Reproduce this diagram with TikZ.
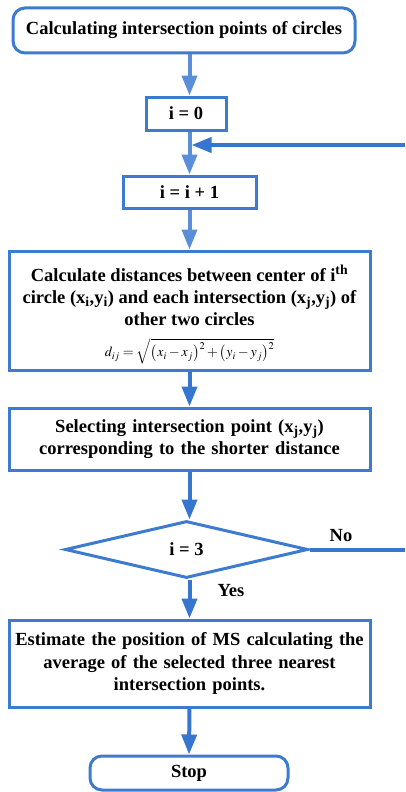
\documentclass[tikz,border=0pt]{standalone}
\usepackage{mathptmx}
\usepackage{fontspec}
\setmainfont{Liberation Serif}
\usetikzlibrary{arrows.meta,shapes.geometric,calc}
\definecolor{boxblue}{HTML}{3C7BCF}
\definecolor{arrowlight}{HTML}{5A8ED8}
\definecolor{arrowdark}{HTML}{3776CE}
\tikzset{
  procbox/.style={draw=boxblue,line width=3pt,fill=white,inner sep=2pt,align=center,
    font=\fontsize{18.5}{22.5}\selectfont\bfseries},
  termbox/.style={procbox,rounded corners=12pt},
  decbox/.style={procbox,shape=diamond,inner sep=0pt},
  boxtext/.style={inner sep=0pt,align=center,font=\fontsize{18.5}{22}\selectfont\bfseries},
  eqtext/.style={inner sep=0pt,font=\fontsize{14}{16}\selectfont},
  flow/.style={line width=4pt,-{Triangle[length=20pt,width=15pt]}},
  lbl/.style={font=\fontsize{18.5}{22}\selectfont\bfseries,inner sep=0pt}
}
\begin{document}
\begin{tikzpicture}[x=1pt,y=-1pt]
\useasboundingbox (0,0) rectangle (405,792);
\node[termbox,minimum width=342pt,minimum height=45pt] (start) at (184,30.5)
  {Calculating intersection points of circles};
\node[procbox,minimum width=80pt,minimum height=33pt] (init) at (186,113.5) {i = 0};
\node[procbox,minimum width=133pt,minimum height=32pt] (inc) at (189.5,192) {i = i + 1};
% distance box: frame, three lines of text, and the distance formula
\node[procbox,minimum width=361pt,minimum height=119pt] (calc) at (189.5,310.5) {};
\node[boxtext] (calctext) at (189.5,295.5)
  {Calculate distances between center of i\textsuperscript{th}\\
   circle (x\textsubscript{i},y\textsubscript{i}) and each intersection (x\textsubscript{j},y\textsubscript{j}) of\\
   other two circles};
\node[eqtext,anchor=north] (dist) at (189.5,338)
  {$d_{ij}=\sqrt{\bigl(x_i-x_j\bigr)^2+\bigl(y_i-y_j\bigr)^2}$};
\node[procbox,minimum width=361pt,minimum height=62pt,text width=355pt] (sel) at (189.5,439)
  {Selecting intersection point (x\textsubscript{j},y\textsubscript{j})\\
   corresponding to the shorter distance};
\node[decbox,minimum width=243pt,minimum height=57pt,aspect=4.26] (dec) at (186.5,549.5) {i = 3};
\node[procbox,minimum width=361pt,minimum height=87pt,text width=355pt] (est) at (189.5,663.5)
  {Estimate the position of MS calculating the\\
   average of the selected three nearest\\
   intersection points.};
\node[termbox,minimum width=198pt,minimum height=34pt] (stop) at (189,773) {Stop};

\coordinate (loopin) at (405,145);
\coordinate (noout) at (405,549.5);

\draw[flow,arrowlight] (start.south -| inc) -- (init.north -| inc);
\draw[flow,arrowlight] (init.south -| inc) -- (inc.north);
\draw[flow,arrowdark] (loopin) -- ($(loopin -| inc)+(2,0)$);
\draw[flow,arrowlight] (inc.south) -- (calc.north);
\draw[flow,arrowdark] (calc.south) -- (sel.north);
\draw[flow,arrowdark] (sel.south) -- (dec.north -| sel);
\draw[flow,arrowdark] (dec.south -| sel) -- (est.north);
\draw[flow,arrowdark] (est.south) -- (stop.north);
\draw[line width=4pt,arrowdark] (dec.east) -- (noout);

\node[lbl] (nolbl) at (341,536) {No};
\node[lbl] (yeslbl) at (231,591) {Yes};
\end{tikzpicture}
\end{document}
